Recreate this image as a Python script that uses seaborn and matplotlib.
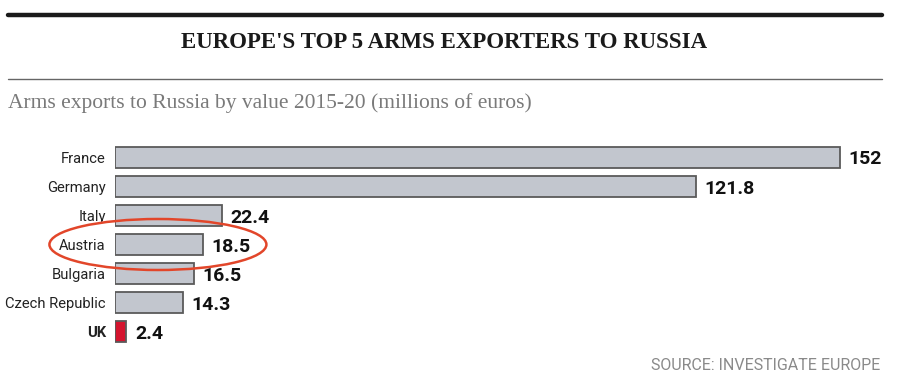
import matplotlib
matplotlib.use("Agg")
import matplotlib.pyplot as plt
import seaborn as sns
import pandas as pd
from matplotlib.patches import Ellipse
from matplotlib.lines import Line2D

countries = ["France", "Germany", "Italy", "Austria", "Bulgaria", "Czech Republic", "UK"]
values = [152, 121.8, 22.4, 18.5, 16.5, 14.3, 2.4]
value_labels = ["152", "121.8", "22.4", "18.5", "16.5", "14.3", "2.4"]
highlight = ["other", "other", "other", "other", "other", "other", "uk"]

df = pd.DataFrame({"country": countries, "value": values, "group": highlight})

sns.set_theme(style="white")
plt.rcParams["font.family"] = ["Roboto", "DejaVu Sans"]

fig = plt.figure(figsize=(9.02, 3.84), dpi=100)
ax = fig.add_axes([115/902, 1-346.5/384, (878-115)/902, (346.5-142.5)/384])

sns.barplot(data=df, x="value", y="country", hue="group", orient="h",
            palette={"other": "#c2c6ce", "uk": "#d4142e"}, dodge=False,
            saturation=1, width=0.72, edgecolor="#5a5a5a", linewidth=1.3,
            legend=False, ax=ax)

ax.set_xlim(0, 160)
ax.set_ylim(6.5, -0.5)
ax.set_xlabel("")
ax.set_ylabel("")
ax.set_xticks([])
for s in ax.spines.values():
    s.set_visible(False)
ax.tick_params(axis="y", length=0, pad=6.5)
for lbl, c in zip(ax.get_yticklabels(), countries):
    lbl.set_fontsize(10.6)
    lbl.set_color("#222222")
    if c == "UK":
        lbl.set_fontweight("bold")

for i, (v, t) in enumerate(zip(values, value_labels)):
    ax.text(v + 1.8, i + 0.08, t, va="center", ha="left", fontsize=14,
            fontweight="bold", color="#111111")

ell = Ellipse((9.0, 3.0), 45.5, 1.75, fill=False, edgecolor="#e2462a",
              linewidth=1.8, clip_on=False, transform=ax.transData)
ax.add_patch(ell)

# header rules
fig.add_artist(Line2D([8/902, 882/902], [1-15/384, 1-15/384], color="#1a1a1a", linewidth=3.2))
fig.add_artist(Line2D([8/902, 882/902], [1-79/384, 1-79/384], color="#666666", linewidth=1.0))

fig.text(444/902, 1-42/384, "EUROPE'S TOP 5 ARMS EXPORTERS TO RUSSIA",
         ha="center", va="center", fontsize=16.5, fontweight="bold",
         family=["Liberation Serif", "DejaVu Serif"], color="#1a1a1a")
fig.text(8/902, 1-103/384, "Arms exports to Russia by value 2015-20 (millions of euros)",
         ha="left", va="center", fontsize=15.5,
         family=["Liberation Serif", "DejaVu Serif"], color="#7a7a7a")
fig.text(880/902, 1-366/384, "SOURCE: INVESTIGATE EUROPE",
         ha="right", va="center", fontsize=11.5, color="#8a8a8a")

fig.savefig("out.png", dpi=100, facecolor="white")
